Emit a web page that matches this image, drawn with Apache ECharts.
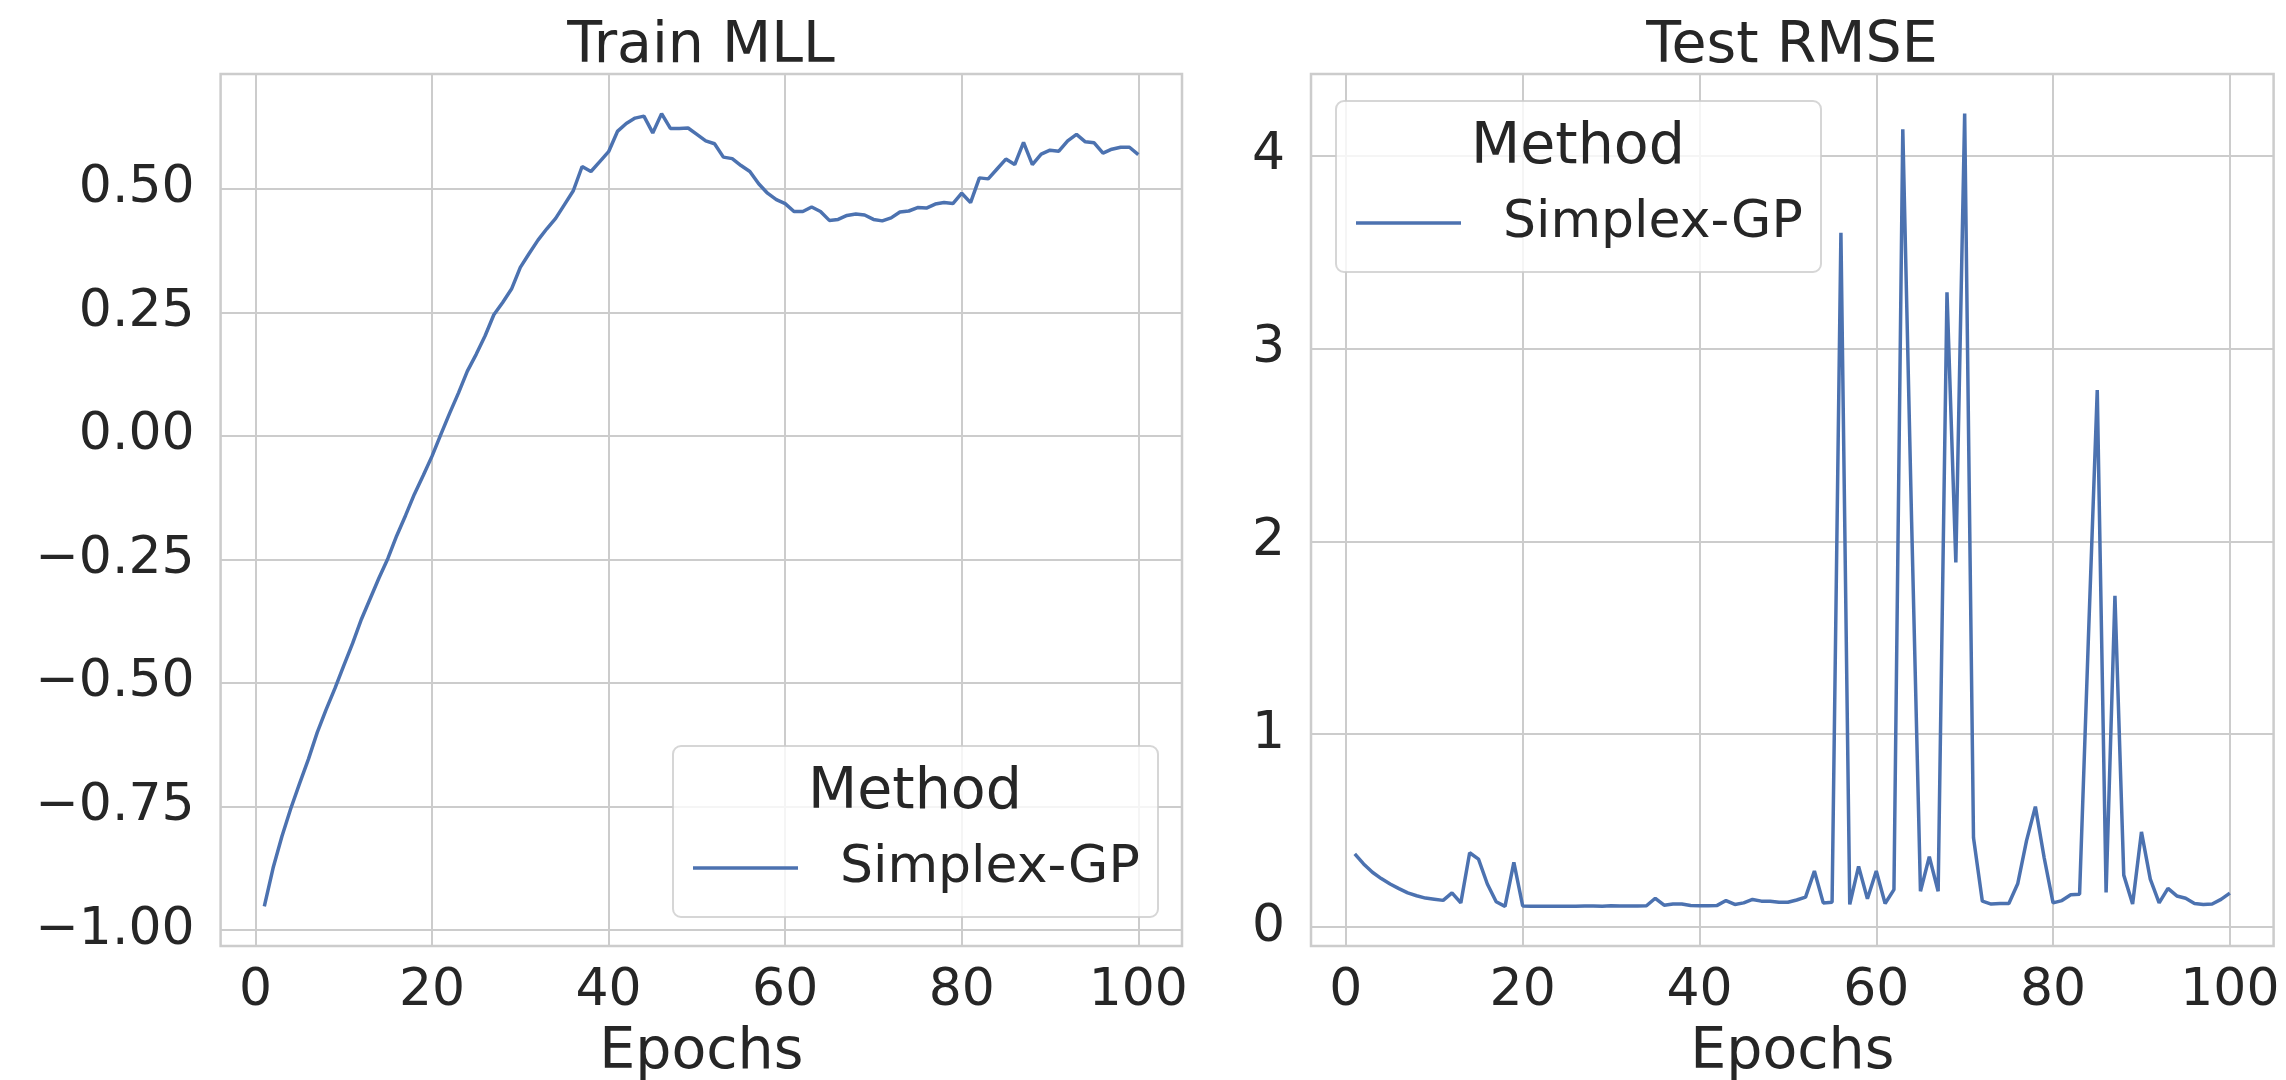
<!DOCTYPE html>
<html>
<head>
<meta charset="utf-8">
<title>Train MLL / Test RMSE</title>
<script src="https://cdn.jsdelivr.net/npm/echarts@6/dist/echarts.min.js"></script>
<style>
  html, body { margin: 0; padding: 0; background: #ffffff; }
  #chart { width: 2286px; height: 1080px; }
</style>
</head>
<body>
<div id="chart"></div>
<script>
// Epoch index for every recorded value
const epochs = Array.from({ length: 100 }, (_, i) => i + 1);

// Training marginal log-likelihood per epoch
const trainMLL = [
  -0.952, -0.874, -0.810, -0.754, -0.703, -0.654, -0.600, -0.554, -0.511, -0.465,
  -0.420, -0.371, -0.329, -0.287, -0.248, -0.202, -0.161, -0.118, -0.080, -0.041,
   0.003,  0.046,  0.087,  0.131,  0.165,  0.202,  0.245,  0.270,  0.297,  0.341,
   0.369,  0.396,  0.419,  0.440,  0.468,  0.496,  0.545,  0.535,  0.555,  0.575,
   0.616,  0.632,  0.643,  0.647,  0.613,  0.652,  0.622,  0.622,  0.623,  0.610,
   0.597,  0.591,  0.564,  0.561,  0.547,  0.535,  0.510,  0.491,  0.478,  0.470,
   0.454,  0.454,  0.463,  0.454,  0.436,  0.438,  0.446,  0.449,  0.447,  0.438,
   0.435,  0.441,  0.453,  0.455,  0.462,  0.461,  0.469,  0.472,  0.470,  0.491,
   0.472,  0.522,  0.520,  0.540,  0.560,  0.549,  0.594,  0.549,  0.570,  0.578,
   0.576,  0.597,  0.610,  0.595,  0.593,  0.572,  0.580,  0.584,  0.584,  0.569
];

// Test RMSE per epoch
const testRMSE = [
  0.379, 0.327, 0.284, 0.251, 0.223, 0.199, 0.177, 0.162, 0.150, 0.144,
  0.138, 0.177, 0.125, 0.385, 0.352, 0.223, 0.131, 0.107, 0.335, 0.109,
  0.108, 0.108, 0.107, 0.107, 0.107, 0.108, 0.109, 0.109, 0.108, 0.110,
  0.109, 0.109, 0.109, 0.110, 0.149, 0.113, 0.119, 0.119, 0.111, 0.110,
  0.110, 0.112, 0.137, 0.117, 0.125, 0.143, 0.134, 0.134, 0.128, 0.128,
  0.140, 0.155, 0.290, 0.125, 0.128, 3.600, 0.117, 0.314, 0.146, 0.290,
  0.122, 0.194, 4.137, 2.100, 0.185, 0.364, 0.185, 3.292, 1.891, 4.218,
  0.463, 0.134, 0.119, 0.122, 0.122, 0.224, 0.448, 0.624, 0.358, 0.125,
  0.137, 0.167, 0.170, 1.500, 2.784, 0.179, 1.718, 0.269, 0.119, 0.493,
  0.248, 0.125, 0.200, 0.161, 0.149, 0.122, 0.117, 0.119, 0.143, 0.176
];

// Tick values shown on the axes
const epochTicks = [0, 20, 40, 60, 80, 100];
const mllTicks = [-1.0, -0.75, -0.5, -0.25, 0, 0.25, 0.5];
const rmseTicks = [0, 1, 2, 3, 4];

const seriesName = 'Simplex-GP';
const legendTitle = 'Method';

const FONT = 'DejaVu Sans';
const INK = '#262626';
const GRIDC = '#cccccc';
const LINEC = '#4c72b0';

// 5% padding on each side of the data range
function padded(values) {
  const lo = Math.min(...values), hi = Math.max(...values);
  const r = hi - lo;
  return [lo - 0.05 * r, hi + 0.05 * r];
}

const xRange = padded(epochs);
const mllRange = padded(trainMLL);
const rmseRange = padded(testRMSE);

const grids = [
  { left: 220.6, top: 74, width: 961.4, height: 872 },
  { left: 1311, top: 74, width: 962.6, height: 872 }
];

function xAxisFor(i) {
  return {
    type: 'value', gridIndex: i, min: xRange[0], max: xRange[1],
    axisLine: { show: false },
    axisTick: { show: false, customValues: epochTicks },
    axisLabel: {
      customValues: epochTicks, fontSize: 52, fontFamily: FONT, color: INK,
      margin: 45, verticalAlign: 'middle'
    },
    splitLine: { show: true, lineStyle: { color: GRIDC, width: 2 } },
    name: 'Epochs', nameLocation: 'middle', nameGap: 107,
    nameTextStyle: { fontSize: 57, fontFamily: FONT, color: INK, verticalAlign: 'middle' }
  };
}

function yAxisFor(i, range, ticks, fmt) {
  return {
    type: 'value', gridIndex: i, min: range[0], max: range[1],
    axisLine: { show: false },
    axisTick: { show: false, customValues: ticks },
    axisLabel: {
      customValues: ticks, fontSize: 52, fontFamily: FONT, color: INK,
      margin: 26, formatter: fmt, padding: [7, 0, 0, 0]
    },
    splitLine: { show: true, lineStyle: { color: GRIDC, width: 2 } }
  };
}

const mllFmt = v => (v < -1e-9 ? '\u2212' : '') + Math.abs(v).toFixed(2);
const rmseFmt = v => String(Math.round(v));

// Legend frame with its "Method" heading
function legendFrame(x, y) {
  return [
    {
      type: 'rect', z: 10, silent: true,
      shape: { x: x, y: y, width: 485, height: 171, r: 8 },
      style: { fill: 'rgba(255,255,255,0.8)', stroke: 'rgba(204,204,204,0.8)', lineWidth: 2 }
    },
    {
      type: 'text', z: 15, silent: true,
      x: x + 242, y: y + 47,
      style: {
        text: legendTitle, fontSize: 57, fontFamily: FONT, fill: INK,
        align: 'center', verticalAlign: 'middle'
      }
    }
  ];
}

function legendFor(x, y) {
  return {
    data: [seriesName], left: x + 20, top: y + 122 - 34, padding: 0, z: 20,
    icon: 'rect', itemWidth: 105, itemHeight: 3.5, selectedMode: false,
    textStyle: {
      fontSize: 52, fontFamily: FONT, color: INK, lineHeight: 60,
      padding: [8, 0, 0, 37]
    }
  };
}

const option = {
  animation: false,
  backgroundColor: '#ffffff',
  textStyle: { fontFamily: FONT },
  title: [
    {
      text: 'Train MLL', left: 701, top: 17, textAlign: 'center', padding: 0,
      textStyle: { fontSize: 57, fontFamily: FONT, color: INK, fontWeight: 'normal', lineHeight: 60 }
    },
    {
      text: 'Test RMSE', left: 1792, top: 17, textAlign: 'center', padding: 0,
      textStyle: { fontSize: 57, fontFamily: FONT, color: INK, fontWeight: 'normal', lineHeight: 60 }
    }
  ],
  grid: grids.map(g => Object.assign({
    show: true, borderColor: GRIDC, borderWidth: 2.5, backgroundColor: '#ffffff',
    containLabel: false, outerBoundsMode: 'none'
  }, g)),
  xAxis: [xAxisFor(0), xAxisFor(1)],
  yAxis: [
    yAxisFor(0, mllRange, mllTicks, mllFmt),
    yAxisFor(1, rmseRange, rmseTicks, rmseFmt)
  ],
  legend: [legendFor(673, 746), legendFor(1336, 101)],
  graphic: { elements: legendFrame(673, 746).concat(legendFrame(1336, 101)) },
  series: [
    {
      name: seriesName, type: 'line', xAxisIndex: 0, yAxisIndex: 0,
      data: epochs.map((e, i) => [e, trainMLL[i]]),
      showSymbol: false, symbol: 'none', z: 3,
      lineStyle: { color: LINEC, width: 3.5 }, itemStyle: { color: LINEC }
    },
    {
      name: seriesName, type: 'line', xAxisIndex: 1, yAxisIndex: 1,
      data: epochs.map((e, i) => [e, testRMSE[i]]),
      showSymbol: false, symbol: 'none', z: 3,
      lineStyle: { color: LINEC, width: 3.5 }, itemStyle: { color: LINEC }
    }
  ]
};

const chart = echarts.init(document.getElementById('chart'), null, { renderer: 'canvas' });
chart.setOption(option);
</script>
</body>
</html>
